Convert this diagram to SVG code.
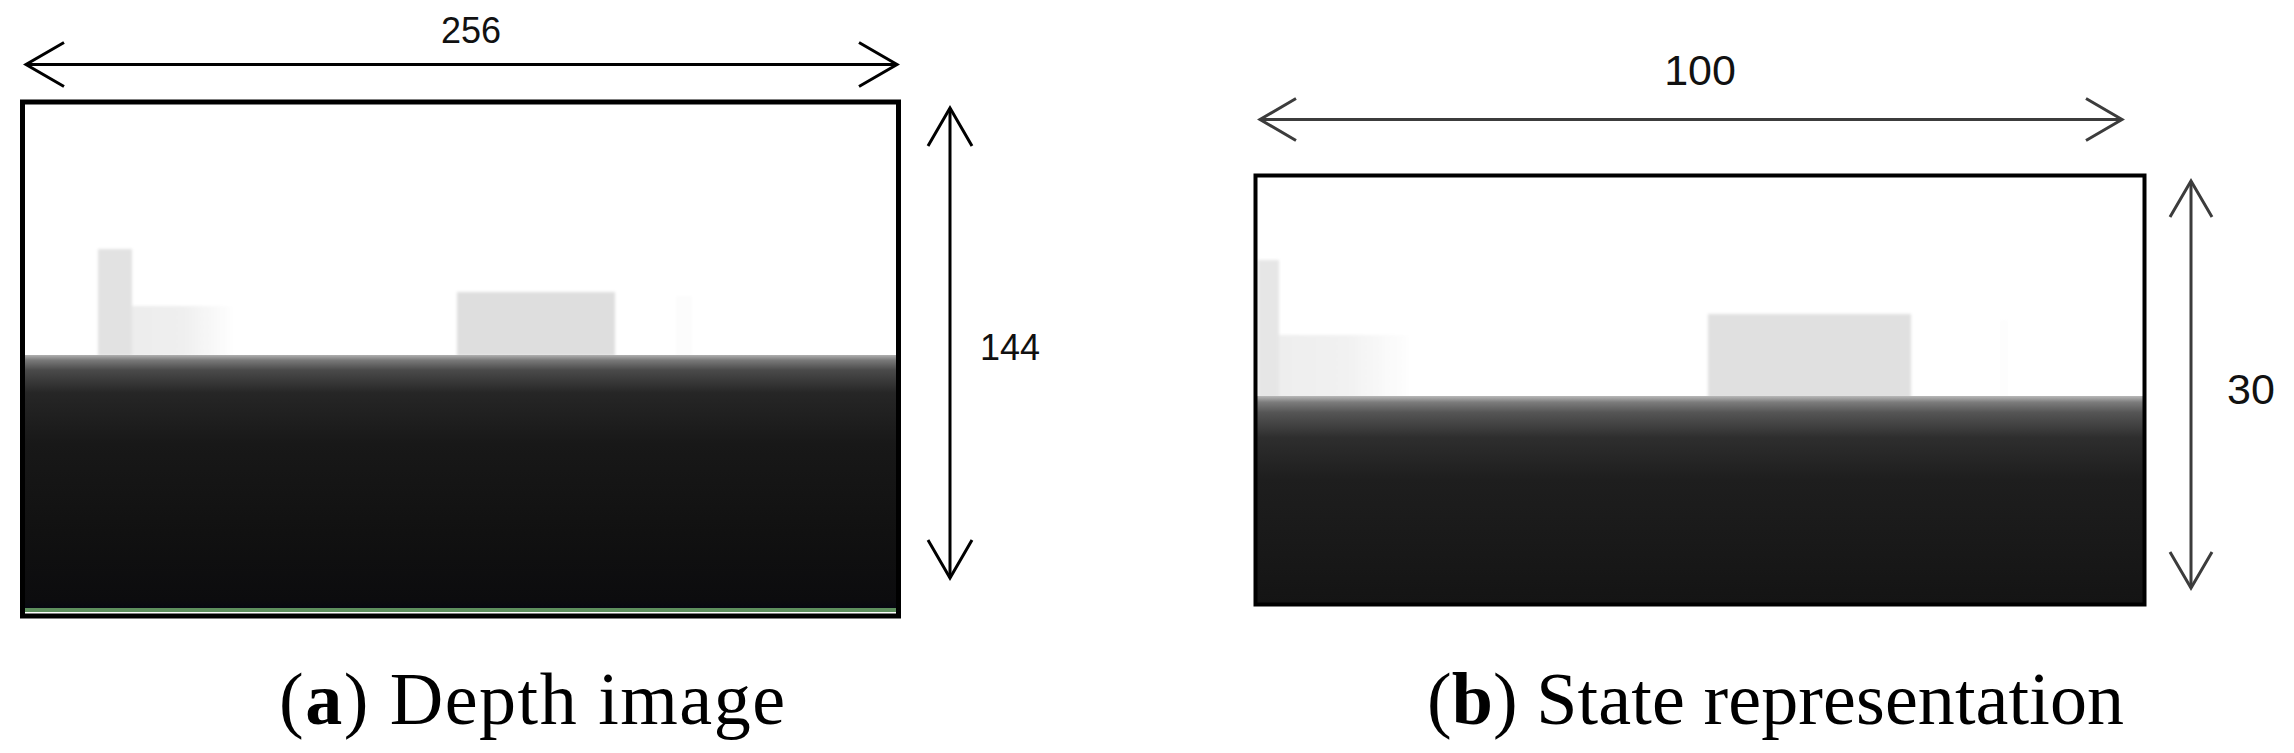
<svg xmlns="http://www.w3.org/2000/svg" width="2294" height="753" viewBox="0 0 2294 753">
  <style>
    .dim { font-family: "Liberation Sans", Arial, sans-serif; fill: #111; }
    .cap { font-family: "Liberation Serif", "Times New Roman", serif; font-size: 74px; fill: #000; }
    .arrowK { fill: none; stroke: #000; stroke-width: 3; }
    .arrowG { fill: none; stroke: #3c3c3c; stroke-width: 3; }
  </style>
  <defs>
    <marker id="headK" markerUnits="userSpaceOnUse" orient="auto-start-reverse" refX="0" refY="0" markerWidth="60" markerHeight="60" viewBox="-45 -30 50 60" overflow="visible">
      <path d="M-38,-22 L0,0 L-38,22" fill="none" stroke="#000" stroke-width="3"/>
    </marker>
    <marker id="headG" markerUnits="userSpaceOnUse" orient="auto-start-reverse" refX="0" refY="0" markerWidth="60" markerHeight="60" viewBox="-45 -30 50 60" overflow="visible">
      <path d="M-36,-21 L0,0 L-36,21" fill="none" stroke="#3c3c3c" stroke-width="3"/>
    </marker>
    <linearGradient id="groundA" x1="0" y1="355" x2="0" y2="608" gradientUnits="userSpaceOnUse">
      <stop offset="0" stop-color="#b0b0b0"/>
      <stop offset="0.02" stop-color="#7a7a7a"/>
      <stop offset="0.06" stop-color="#4a4a4a"/>
      <stop offset="0.15" stop-color="#262626"/>
      <stop offset="0.35" stop-color="#181818"/>
      <stop offset="0.7" stop-color="#111111"/>
      <stop offset="0.97" stop-color="#0c0c0e"/>
      <stop offset="1" stop-color="#080812"/>
    </linearGradient>
    <linearGradient id="groundB" x1="0" y1="396" x2="0" y2="604" gradientUnits="userSpaceOnUse">
      <stop offset="0" stop-color="#b8b8b8"/>
      <stop offset="0.03" stop-color="#7c7c7c"/>
      <stop offset="0.08" stop-color="#555555"/>
      <stop offset="0.2" stop-color="#2e2e2e"/>
      <stop offset="0.4" stop-color="#1e1e1e"/>
      <stop offset="1" stop-color="#141414"/>
    </linearGradient>
    <linearGradient id="fadeA" x1="132" y1="0" x2="235" y2="0" gradientUnits="userSpaceOnUse">
      <stop offset="0" stop-color="#ececec"/>
      <stop offset="0.5" stop-color="#efefef"/>
      <stop offset="1" stop-color="#ffffff"/>
    </linearGradient>
    <linearGradient id="fadeB" x1="1279" y1="0" x2="1413" y2="0" gradientUnits="userSpaceOnUse">
      <stop offset="0" stop-color="#eeeeee"/>
      <stop offset="0.5" stop-color="#f1f1f1"/>
      <stop offset="1" stop-color="#ffffff"/>
    </linearGradient>
    <filter id="soft" x="-10%" y="-10%" width="120%" height="120%">
      <feGaussianBlur stdDeviation="1.5"/>
    </filter>
  </defs>

  <rect x="0" y="0" width="2294" height="753" fill="#fff"/>

  <!-- Panel (a): depth image -->
  <g id="panel-a">
    <rect x="22" y="102" width="877" height="514" fill="#fff"/>
    <g filter="url(#soft)">
      <rect x="98" y="249" width="34" height="107" fill="#e2e2e2"/>
      <rect x="132" y="306" width="103" height="50" fill="url(#fadeA)"/>
      <rect x="457" y="292" width="158" height="64" fill="#dedede"/>
      <rect x="676" y="296" width="16" height="60" fill="#fcfcfc"/>
    </g>
    <rect x="22" y="355" width="877" height="253" fill="url(#groundA)"/>
    <rect x="22" y="608" width="877" height="4" fill="#5e8f5e"/>
    <rect x="22.5" y="102" width="876" height="514" fill="none" stroke="#000" stroke-width="5"/>
  </g>

  <!-- Panel (b): state representation -->
  <g id="panel-b">
    <rect x="1255" y="175" width="890" height="430" fill="#fff"/>
    <g filter="url(#soft)">
      <rect x="1258" y="260" width="21" height="138" fill="#e6e6e6"/>
      <rect x="1279" y="335" width="134" height="63" fill="url(#fadeB)"/>
      <rect x="1708" y="314" width="203" height="84" fill="#e0e0e0"/>
      <rect x="2000" y="320" width="8" height="78" fill="#fdfdfd"/>
    </g>
    <rect x="1255" y="396" width="890" height="208" fill="url(#groundB)"/>
    <rect x="1255.5" y="175.5" width="889" height="429" fill="none" stroke="#000" stroke-width="4"/>
  </g>

  <!-- Dimension arrows -->
  <g id="connectors">
    <line class="arrowK" x1="26" y1="64.5" x2="897" y2="64.5" marker-start="url(#headK)" marker-end="url(#headK)"/>
    <line class="arrowK" x1="950" y1="108" x2="950" y2="578" marker-start="url(#headK)" marker-end="url(#headK)"/>
    <line class="arrowG" x1="1260" y1="119.5" x2="2122" y2="119.5" marker-start="url(#headG)" marker-end="url(#headG)"/>
    <line class="arrowG" x1="2191" y1="181" x2="2191" y2="588" marker-start="url(#headG)" marker-end="url(#headG)"/>
  </g>

  <!-- Dimension labels -->
  <g id="labels">
    <text class="dim" x="471" y="43" font-size="36" text-anchor="middle">256</text>
    <text class="dim" x="980" y="360" font-size="36">144</text>
    <text class="dim" x="1700" y="85" font-size="43" text-anchor="middle">100</text>
    <text class="dim" x="2227" y="404" font-size="43">30</text>
  </g>

  <!-- Captions -->
  <g id="captions">
    <text class="cap" x="279" y="724" font-size="76" textLength="506" lengthAdjust="spacing">(<tspan font-weight="bold">a</tspan>) Depth image</text>
    <text class="cap" x="1427" y="724" textLength="697" lengthAdjust="spacing">(<tspan font-weight="bold">b</tspan>) State representation</text>
  </g>
</svg>
